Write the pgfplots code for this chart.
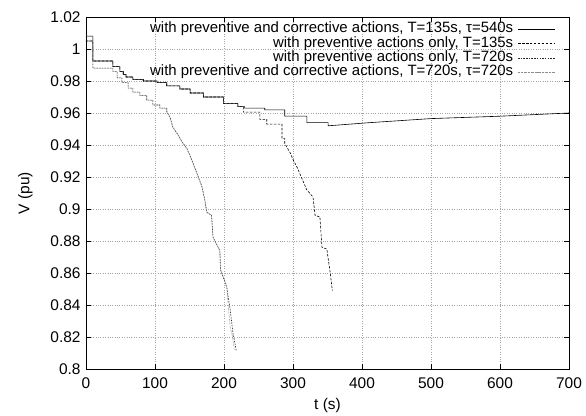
\documentclass[border=0pt]{standalone}
\usepackage{pgfplots}
\pgfplotsset{compat=1.18}
\usepackage{fontspec}
\setmainfont{Liberation Sans}
\begin{document}
\begin{tikzpicture}
\begin{axis}[
    scale only axis,
    width=483bp,
    height=352bp,
    xmin=0, xmax=700,
    ymin=0.8, ymax=1.02,
    xtick={0,100,...,700},
    ytick={0.8,0.82,0.84,0.86,0.88,0.9,0.92,0.94,0.96,0.98,1,1.02},
    yticklabels={0.8,0.82,0.84,0.86,0.88,0.9,0.92,0.94,0.96,0.98,1,1.02},
    xlabel={t (s)},
    ylabel={V (pu)},
    font=\fontsize{15.5}{17}\selectfont,
    tick label style={font=\fontsize{15.5}{17}\selectfont},
    /pgf/number format/assume math mode=true,
    xticklabel style={yshift=-5bp},
    yticklabel style={xshift=-2bp},
    xlabel style={yshift=-3bp},
    ylabel style={yshift=11bp},
    grid=major,
    grid style={gray!70, dotted, line width=0.4pt},
    axis line style={line width=0.8pt},
    tick style={black, line width=0.6pt},
    major tick length=5bp,
    legend plot pos=right,
    legend cell align=right,
    legend style={draw=none, fill=none, at={(0.973,0.986)}, anchor=north east,
        row sep=0pt, inner sep=0pt,
        nodes={inner ysep=0pt, inner xsep=4.5bp, text height=10.6bp, text depth=3.7bp},
        font=\fontsize{15}{17}\selectfont},
    legend image post style={xscale=2.2},
]
% T=135s, tau=540s (both actions)
\addplot[black, line width=0.6pt] coordinates {
(0,1.008)(10,1.008)(10,0.9925)(39,0.9925)(39,0.989)(49,0.989)(49,0.986)(54,0.986)(54,0.984)
(58,0.984)(58,0.9825)(68,0.9825)(68,0.981)(83,0.981)(83,0.980)(103,0.980)(103,0.979)
(117,0.979)(117,0.977)(136,0.977)(136,0.975)(151,0.975)(151,0.9725)(170,0.9725)(170,0.970)
(199,0.970)(199,0.966)(220,0.966)(220,0.964)(230,0.964)(230,0.963)(259,0.963)(259,0.962)
(288,0.962)(288,0.958)(320,0.958)(320,0.954)(351,0.954)(351,0.952)(412,0.954)(500,0.9565)
(600,0.958)(700,0.960)
};
\addlegendentry{with preventive and corrective actions, T=135s, τ=540s}
% T=135s, preventive only
\addplot[black, line width=0.6pt, dash pattern=on 2.5pt off 1.5pt] coordinates {
(0,1.005)(10,1.005)(10,0.9925)(39,0.9925)(39,0.989)(49,0.989)(49,0.986)(54,0.986)(54,0.984)
(58,0.984)(58,0.9825)(68,0.9825)(68,0.981)(83,0.981)(83,0.980)(103,0.980)(103,0.979)
(117,0.979)(117,0.977)(136,0.977)(136,0.975)(151,0.975)(151,0.9725)(170,0.9725)(170,0.970)
(199,0.970)(199,0.966)(220,0.966)(220,0.964)(228,0.964)(228,0.9605)(252,0.9605)(252,0.956)
(262,0.956)(262,0.953)(284,0.953)(284,0.944)(288,0.944)(288,0.941)(296,0.935)(300,0.931)
(306,0.926)(313,0.919)(320,0.912)(329,0.9075)(332,0.896)(339,0.895)(342,0.876)(349,0.875)
(354,0.860)(357,0.849)
};
\addlegendentry{with preventive actions only, T=135s}
% T=720s, preventive only
\addplot[black!85, line width=0.6pt, dash pattern=on 1.5pt off 1.2pt] coordinates {
(0,1.005)(10,1.005)(10,0.988)(39,0.988)(39,0.986)(45,0.986)(45,0.982)(52,0.982)(52,0.979)
(61,0.979)(61,0.9755)(68,0.9755)(68,0.973)(78,0.973)(78,0.971)(88,0.971)(88,0.968)
(97,0.968)(97,0.965)(107,0.965)(107,0.963)(117,0.963)(117,0.961)(122,0.957)(126,0.951)
(134,0.946)(139,0.942)(146,0.938)(153,0.931)(161,0.922)(168,0.914)(172,0.906)(175,0.898)
(182,0.896)(184,0.8825)(194,0.874)(195,0.862)(204,0.851)(209,0.837)(213,0.8225)(218,0.811)
};
\addlegendentry{with preventive actions only, T=720s}
% T=720s, tau=720s (both actions)
\addplot[black!45, line width=0.6pt, dash pattern=on 0.6pt off 0.8pt] coordinates {
(0,1.008)(10,1.008)(10,0.988)(39,0.988)(39,0.986)(45,0.986)(45,0.982)(52,0.982)(52,0.979)
(61,0.979)(61,0.9755)(68,0.9755)(68,0.973)(78,0.973)(78,0.971)(88,0.971)(88,0.968)
(97,0.968)(97,0.965)(107,0.965)(107,0.963)(117,0.963)(117,0.961)(122,0.957)(126,0.951)
(134,0.946)(139,0.942)(146,0.938)(153,0.931)(161,0.922)(168,0.914)(172,0.906)(175,0.898)
(182,0.896)(184,0.8825)(194,0.874)(195,0.862)(204,0.852)(206,0.840)(209,0.826)(212,0.821)
(215,0.812)
};
\addlegendentry{with preventive and corrective actions, T=720s, τ=720s}
\end{axis}
\path ([shift={(-86bp,-47bp)}]current axis.south west) rectangle ([shift={(17bp,17bp)}]current axis.north east);
\end{tikzpicture}
\end{document}
